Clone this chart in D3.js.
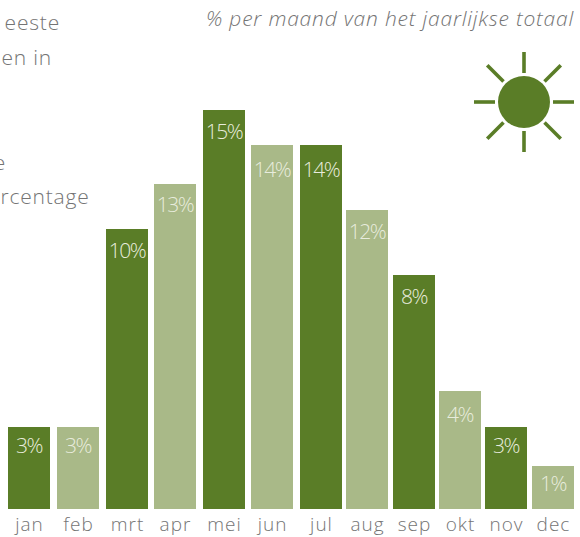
<!DOCTYPE html>
<html><head><meta charset="utf-8">
<script src="https://cdn.jsdelivr.net/npm/d3@7/dist/d3.min.js"></script>
<style>html,body{margin:0;padding:0;background:#fff}svg{display:block}text{font-family:"Open Sans",Lato,sans-serif;font-weight:300}</style>
</head><body><svg id="c" width="580" height="537"></svg>
<script>
const months=["jan","feb","mrt","apr","mei","jun","jul","aug","sep","okt","nov","dec"];
const shares=[3.08,3.08,10.53,12.22,15,13.68,13.68,11.24,8.8,4.44,3.08,1.62];
const valueLabels=["3%","3%","10%","13%","15%","14%","14%","12%","8%","4%","3%","1%"];
const labelDrops=[26,26,29,28,29,32,32,29,29,31,26,25];
const subtitle="% per maand van het jaarlijkse totaal";
const clippedLines=["eeste","en in","e","rcentage"];
const rayAngles=[0,45,90,135,180,225,270,315];
const dark="#5a7d27",light="#a9b988",grey="#747474";

const barW=42;
const svg=d3.select("#c");
const x=d3.scaleLinear().domain([0,2,6,11]).range([8,106,299.8,531.6]);
const y=d3.scaleLinear().domain([0,15]).range([509,110]);
const lineY=d3.scaleOrdinal().domain(clippedLines).range([30,65,170,204]);
const lineX=d3.scaleOrdinal().domain(clippedLines).range([60,52,6,89.5]);

svg.selectAll("rect.bar").data(shares).join("rect").attr("class","bar")
 .attr("x",(d,i)=>Math.round(x(i))).attr("width",barW)
 .attr("y",d=>Math.round(y(d))).attr("height",d=>y(0)-Math.round(y(d)))
 .attr("fill",(d,i)=>i%2?light:dark);

svg.selectAll("text.val").data(shares).join("text").attr("class","val")
 .attr("x",(d,i)=>Math.round(x(i))+barW/2).attr("y",(d,i)=>Math.round(y(d))+labelDrops[i])
 .attr("text-anchor","middle").attr("font-size",21).attr("letter-spacing",-1.4).attr("fill","#e8ecdd")
 .text((d,i)=>valueLabels[i]);

svg.selectAll("text.mon").data(months).join("text").attr("class","mon")
 .attr("x",(d,i)=>Math.round(x(i))+barW/2+0.5).attr("y",531)
 .attr("text-anchor","middle").attr("font-size",19).attr("letter-spacing",1).attr("fill",grey).text(d=>d);

svg.selectAll("text.intro").data(clippedLines).join("text").attr("class","intro")
 .attr("x",d=>lineX(d)).attr("y",d=>lineY(d)).attr("text-anchor","end")
 .attr("font-size",21).attr("letter-spacing",0.8).attr("fill",grey).text(d=>d);

svg.append("text").attr("x",574).attr("y",26).attr("text-anchor","end")
 .attr("font-size",21).attr("letter-spacing",0.8).attr("font-style","italic").attr("fill",grey).text(subtitle);

const sun=svg.append("g").attr("transform","translate(524,102)");
sun.append("circle").attr("r",26).attr("fill",dark);
sun.selectAll("line").data(rayAngles).join("line")
 .attr("transform",d=>`rotate(${d})`)
 .attr("x1",29).attr("x2",d=>d%90?52:50)
 .attr("y1",0).attr("y2",0)
 .attr("stroke",dark).attr("stroke-width",3.6);
</script></body></html>
